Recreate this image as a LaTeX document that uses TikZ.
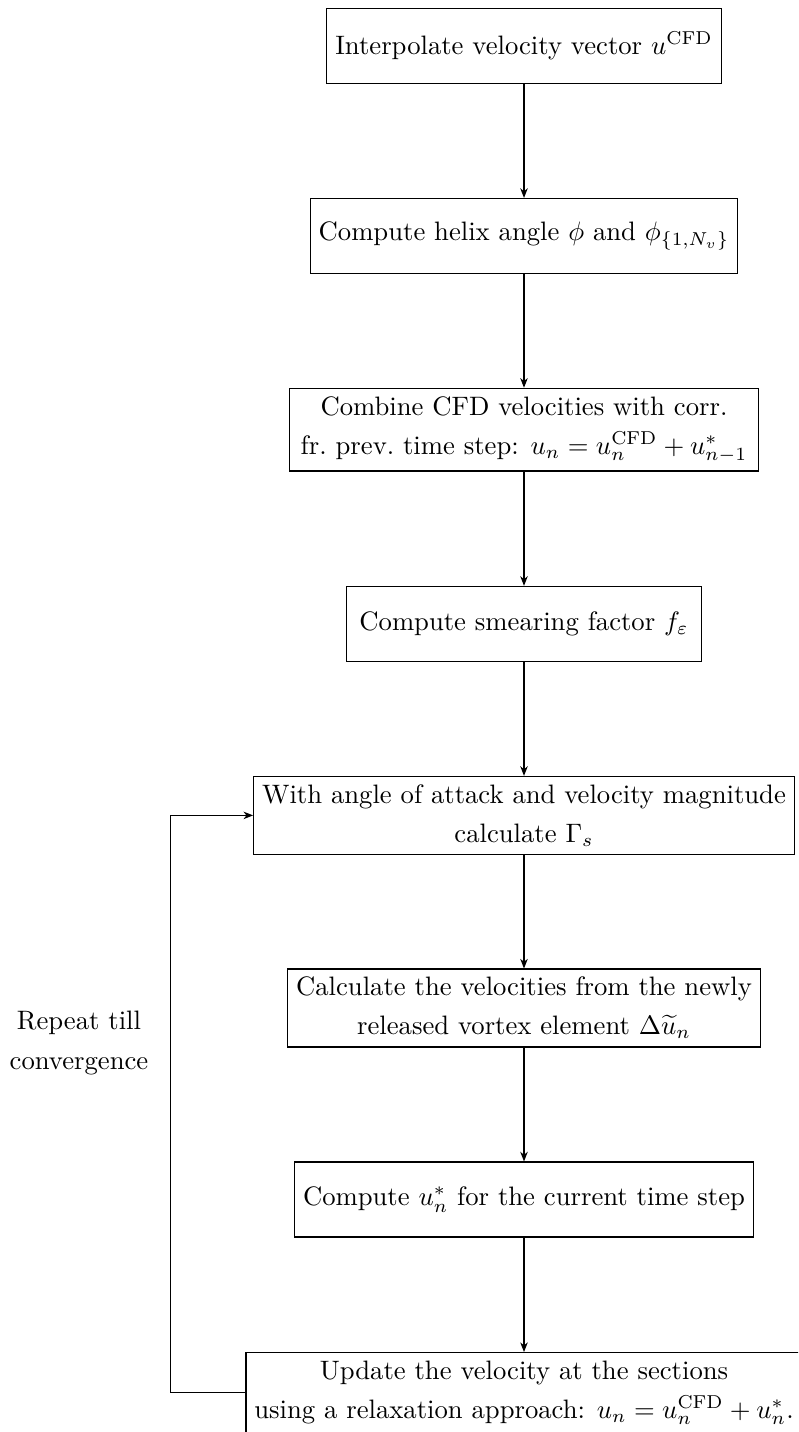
\documentclass[tikz,border=0pt]{standalone}
\usetikzlibrary{arrows.meta}
\begin{document}
\begin{tikzpicture}[x=0.375pt,y=-0.375pt,
  box/.style={draw,line width=0.45pt,align=center,inner xsep=2pt,inner ysep=3pt,
    minimum height=28.1pt,font=\linespread{1.22}\selectfont},
  conn/.style={line width=0.45pt,-{Stealth[length=3.6pt,width=2.8pt,inset=1.1pt]}},
  lbl/.style={align=center,font=\linespread{1.22}\selectfont}]
\clip (0,0) rectangle (798,1432);
\node[box,minimum width=148.0pt] (b1) at (524,45.7) {Interpolate velocity vector $u^{\mathrm{CFD}}$};
\node[box,minimum width=160.3pt] (b2) at (524,236) {Compute helix angle $\phi$ and $\phi_{\{1,N_v\}}$};
\node[box,minimum width=176.0pt] (b3) at (524,429.7) {Combine CFD velocities with corr.\\ fr.\ prev.\ time step: $u_n = u_n^{\mathrm{CFD}} + u_{n-1}^*$};
\node[box,minimum width=133.3pt] (b4) at (524,623.9) {Compute smearing factor $f_\varepsilon$};
\node[box,minimum width=202.7pt] (b5) at (524,815.4) {With angle of attack and velocity magnitude\\ calculate $\Gamma_s$};
\node[box,minimum width=177.2pt] (b6) at (524,1008) {Calculate the velocities from the newly\\ released vortex element $\Delta\widetilde{u}_n$};
\node[box,minimum width=172.3pt] (b7) at (524,1199.5) {Compute $u_n^*$ for the current time step};
\node[box,minimum width=208.5pt] (b8) at (524,1392.7) {Update the velocity at the sections\\ using a relaxation approach: $u_n = u_n^{\mathrm{CFD}} + u_n^*$.};
\node[lbl] (rep) at (79,1043) {Repeat till\\ convergence};
\coordinate (lp) at (170.3,1392.7);
\draw[conn] (b1) -- (b2);
\draw[conn] (b2) -- (b3);
\draw[conn] (b3) -- (b4);
\draw[conn] (b4) -- (b5);
\draw[conn] (b5) -- (b6);
\draw[conn] (b6) -- (b7);
\draw[conn] (b7) -- (b8);
\draw[conn] (b8.west) -- (lp) |- (b5.west);
\end{tikzpicture}
\end{document}
